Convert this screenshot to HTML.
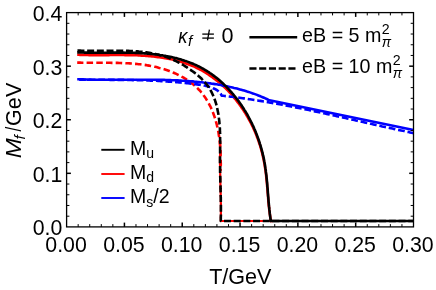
<!DOCTYPE html>
<html><head><meta charset="utf-8"><style>
html,body{margin:0;padding:0;background:#fff;}
svg{display:block;}
text{filter:grayscale(1);}
text{font-family:"Liberation Sans",sans-serif;fill:#000;}
</style></head><body>
<svg width="436" height="290" viewBox="0 0 436 290">
<rect width="436" height="290" fill="#fff"/>
<clipPath id="c"><rect x="66.6" y="12.6" width="346.9" height="214.3"/></clipPath>
<g clip-path="url(#c)">
<path d="M77.2 54.8L78.7 54.8L80.1 54.9L81.6 54.9L83.1 54.9L84.7 55.0L86.2 55.0L87.7 55.0L89.2 55.1L90.7 55.1L92.2 55.1L93.7 55.1L95.2 55.1L96.7 55.1L98.2 55.1L99.7 55.1L101.2 55.1L102.7 55.1L104.2 55.1L105.7 55.1L107.2 55.1L108.7 55.1L110.2 55.0L111.7 55.0L113.2 55.0L114.7 55.0L116.2 55.0L117.6 55.0L119.1 55.0L120.6 55.0L122.1 55.0L123.6 55.0L125.1 55.1L126.6 55.1L128.1 55.1L129.6 55.1L131.1 55.2L132.6 55.2L134.1 55.2L135.6 55.3L137.0 55.3L138.5 55.4L140.0 55.5L141.5 55.6L143.0 55.7L144.5 55.8L146.0 55.9L147.5 56.0L148.9 56.1L150.4 56.3L151.9 56.4L153.4 56.5L154.9 56.7L156.4 56.9L157.9 57.1L159.3 57.3L160.8 57.5L162.3 57.7L163.8 57.9L165.2 58.2L166.7 58.4L168.2 58.7L169.6 59.0L171.1 59.3L172.5 59.6L174.0 60.0L175.4 60.3L176.8 60.7L178.3 61.0L179.7 61.4L181.1 61.9L182.5 62.3L183.9 62.7L185.3 63.2L186.7 63.7L188.1 64.2L189.4 64.7L190.8 65.2L192.1 65.8L193.5 66.4L194.8 66.9L196.1 67.6L197.4 68.2L198.7 68.8L200.0 69.5L201.3 70.2L202.6 70.9L203.8 71.6L205.1 72.4L206.3 73.1L207.5 73.9L208.7 74.7L209.9 75.6L211.1 76.4L212.3 77.2L213.5 78.1L214.7 79.0L215.9 79.9L217.0 80.8L218.2 81.7L219.3 82.6L220.4 83.6L221.5 84.6L222.6 85.6L223.7 86.6L224.8 87.6L225.9 88.6L226.9 89.7L227.9 90.7L229.0 91.8L230.0 92.9L231.0 94.0L232.0 95.1L232.9 96.3L233.9 97.4L234.8 98.6L235.8 99.7L236.7 100.9L237.6 102.1L238.5 103.3L239.4 104.5L240.3 105.7L241.1 106.9L242.0 108.1L242.8 109.4L243.6 110.6L244.5 111.9L245.3 113.1L246.0 114.4L246.8 115.7L247.6 117.0L248.3 118.3L249.0 119.6L249.7 120.9L250.4 122.2L251.1 123.5L251.8 124.9L252.4 126.2L253.1 127.5L253.7 128.9L254.3 130.3L254.9 131.6L255.5 133.0L256.1 134.4L256.6 135.8L257.1 137.2L257.7 138.6L258.2 140.0L258.7 141.4L259.1 142.8L259.6 144.2L260.1 145.6L260.5 147.1L260.9 148.5L261.3 149.9L261.7 151.4L262.1 152.8L262.4 154.3L262.8 155.7L263.1 157.2L263.4 158.7L263.7 160.1L264.0 161.6L264.3 163.0L264.6 164.5L264.8 166.0L265.0 167.5L265.3 168.9L265.5 170.4L265.7 171.9L265.9 173.4L266.1 174.9L266.2 176.4L266.4 177.9L266.5 179.3L266.7 180.8L266.8 182.3L267.0 183.8L267.1 185.3L267.2 186.8L267.4 188.3L267.5 189.8L267.6 191.3L267.7 192.8L267.9 194.3L268.0 195.8L268.1 197.3L268.2 198.8L268.3 200.3L268.4 201.8L268.6 203.3L268.7 204.8L268.9 206.2L269.1 207.7L269.2 209.2L269.4 210.7L269.6 212.2L269.8 213.7L270.0 215.2L270.2 216.6L270.4 218.1L270.6 219.6L270.9 221.1L271.0 221.0L273.0 221.0" fill="none" stroke="#ff0000" stroke-width="2.60" stroke-linejoin="round"/>
<path d="M77.2 62.6L78.7 62.6L80.2 62.6L81.7 62.7L83.2 62.7L84.7 62.7L86.1 62.8L87.6 62.8L89.1 62.8L90.6 62.8L92.1 62.8L93.6 62.8L95.1 62.8L96.6 62.8L98.1 62.8L99.6 62.8L101.1 62.8L102.6 62.8L104.2 62.8L105.7 62.8L107.2 62.8L108.7 62.8L110.2 62.8L111.7 62.9L113.2 62.9L114.7 62.9L116.2 62.9L117.7 62.9L119.2 63.0L120.7 63.0L122.2 63.1L123.7 63.1L125.2 63.2L126.7 63.3L128.2 63.3L129.7 63.4L131.2 63.5L132.7 63.6L134.2 63.8L135.7 63.9L137.2 64.0L138.7 64.2L140.2 64.3L141.6 64.5L143.1 64.7L144.6 64.9L146.1 65.1L147.6 65.4L149.0 65.6L150.5 65.9L152.0 66.2L153.4 66.5L154.9 66.8L156.4 67.1L157.8 67.5L159.3 67.9L160.7 68.2L162.2 68.7L163.6 69.1L165.0 69.5L166.5 70.0L167.9 70.5L169.3 71.0L170.7 71.6L172.2 72.1L173.6 72.7L174.9 73.3L176.3 73.9L177.7 74.6L179.1 75.3L180.4 75.9L181.7 76.7L183.1 77.4L184.4 78.2L185.6 78.9L186.9 79.8L188.2 80.6L189.4 81.4L190.6 82.3L191.8 83.2L193.0 84.2L194.1 85.1L195.2 86.1L196.3 87.1L197.4 88.1L198.4 89.2L199.5 90.2L200.5 91.3L201.4 92.5L202.4 93.6L203.3 94.8L204.1 96.0L205.0 97.2L205.8 98.4L206.6 99.7L207.4 100.9L208.1 102.2L208.8 103.5L209.5 104.9L210.2 106.2L210.9 107.5L211.5 108.9L212.1 110.3L212.6 111.7L213.2 113.1L213.7 114.5L214.2 115.9L214.7 117.4L215.2 118.8L215.6 120.2L216.0 121.7L216.4 123.2L216.8 124.6L217.1 126.1L217.5 127.5L217.8 129.0L218.1 130.5L218.4 132.0L218.6 133.4L218.8 134.9L219.1 136.4L219.3 137.9L219.5 139.4L219.6 140.8L219.8 142.3L219.9 143.8L220.1 145.3L220.2 146.8L220.3 148.3L220.4 149.8L220.5 151.3L220.5 152.8L220.6 154.3L220.6 155.8L220.7 157.3L220.7 158.8L220.7 160.3L220.7 161.8L220.8 163.3L220.8 164.8L220.7 166.3L220.7 167.8L220.7 169.3L220.7 170.8" fill="none" stroke="#ff0000" stroke-width="2.60" stroke-linejoin="round" stroke-dasharray="6.50 3.20" stroke-dashoffset="0.30"/>
<path d="M220.2 140.7L220.2 142.2L220.2 143.7L220.1 145.2L220.1 146.7L220.1 148.2L220.1 149.7L220.1 151.2L220.1 152.7L220.1 154.2L220.0 155.7L220.0 157.2L220.0 158.7L220.0 160.2L220.0 161.7L220.0 163.2L220.0 164.7L220.1 166.2L220.1 167.7L220.1 169.2L220.1 170.7L220.1 172.2L220.2 173.7L220.2 175.2L220.2 176.7L220.3 178.2L220.3 179.7L220.3 181.2L220.4 182.7L220.4 184.2L220.5 185.7L220.5 187.2L220.5 188.7L220.6 190.2L220.6 191.7L220.7 193.2L220.7 194.7L220.7 196.2L220.8 197.7L220.8 199.2L220.8 200.7L220.8 202.2L220.9 203.7L220.9 205.2L220.9 206.7L220.9 208.2L220.9 209.7L220.9 211.2L220.9 212.7L220.9 214.2L220.9 215.7L220.8 217.2L220.8 218.7L220.8 220.2L220.8 221.0L273.0 221.0" fill="none" stroke="#ff0000" stroke-width="2.20" stroke-linejoin="round"/>
<path d="M77.2 79.3L78.7 79.3L80.2 79.3L81.7 79.4L83.2 79.4L84.7 79.5L86.2 79.5L87.6 79.6L89.1 79.6L90.6 79.6L92.1 79.7L93.6 79.7L95.1 79.7L96.6 79.7L98.1 79.7L99.6 79.7L101.1 79.8L102.6 79.8L104.1 79.8L105.6 79.8L107.1 79.8L108.6 79.8L110.1 79.8L111.6 79.8L113.1 79.8L114.6 79.8L116.1 79.8L117.6 79.8L119.1 79.8L120.6 79.8L122.1 79.7L123.6 79.7L125.1 79.7L126.6 79.7L128.1 79.7L129.6 79.7L131.1 79.7L132.6 79.7L134.1 79.7L135.6 79.7L137.1 79.7L138.6 79.7L140.1 79.7L141.6 79.7L143.2 79.7L144.7 79.7L146.2 79.7L147.7 79.7L149.2 79.7L150.7 79.7L152.2 79.7L153.7 79.8L155.2 79.8L156.7 79.8L158.2 79.8L159.7 79.8L161.2 79.9L162.7 79.9L164.2 79.9L165.7 80.0L167.2 80.0L168.7 80.1L170.3 80.1L171.8 80.2L173.3 80.2L174.8 80.3L176.3 80.4L177.8 80.4L179.3 80.5L180.8 80.6L182.3 80.7L183.8 80.8L185.3 80.9L186.7 81.0L188.2 81.1L189.7 81.2L191.2 81.3L192.7 81.4L194.2 81.6L195.7 81.7L197.2 81.9L198.7 82.0L200.2 82.2L201.7 82.3L203.2 82.5L204.6 82.7L206.1 82.9L207.6 83.0L209.1 83.2L210.6 83.4L212.0 83.7L213.5 83.9L215.0 84.1L216.5 84.3L218.0 84.6L219.4 84.8L220.9 85.1L222.4 85.4L223.8 85.7L225.3 85.9L226.8 86.2L228.2 86.6L229.7 86.9L231.2 87.2L232.6 87.5L234.1 87.9L235.5 88.2L237.0 88.6L238.4 89.0L239.9 89.4L241.3 89.8L242.8 90.2L244.2 90.6L245.6 91.0L247.1 91.5L248.5 91.9L249.9 92.4L251.3 92.9L252.8 93.4L254.2 93.9L255.6 94.4L257.0 94.9L258.4 95.5L259.8 96.0L261.2 96.6L262.6 97.2L264.0 97.8L265.4 98.4L266.7 99.0L268.1 99.7L268.3 100.1L295.0 105.5L413.5 130.0" fill="none" stroke="#0000ff" stroke-width="2.60" stroke-linejoin="round"/>
<path d="M77.2 79.8L78.7 79.8L80.2 79.8L81.7 79.8L83.2 79.8L84.7 79.8L86.2 79.8L87.7 79.8L89.2 79.8L90.7 79.8L92.2 79.8L93.8 79.8L95.3 79.8L96.8 79.8L98.3 79.8L99.8 79.8L101.3 79.8L102.8 79.8L104.3 79.8L105.8 79.8L107.3 79.8L108.8 79.8L110.3 79.9L111.8 79.9L113.3 79.9L114.8 79.9L116.3 79.9L117.8 79.9L119.3 79.9L120.7 79.9L122.2 79.9L123.7 79.9L125.2 80.0L126.7 80.0L128.2 80.0L129.7 80.0L131.2 80.0L132.7 80.1L134.2 80.1L135.7 80.1L137.2 80.2L138.7 80.2L140.2 80.2L141.7 80.3L143.2 80.3L144.7 80.4L146.2 80.4L147.7 80.5L149.2 80.5L150.7 80.6L152.2 80.6L153.7 80.7L155.2 80.8L156.6 80.8L158.1 80.9L159.6 81.0L161.1 81.1L162.6 81.2L164.1 81.3L165.6 81.4L167.1 81.5L168.6 81.6L170.1 81.7L171.6 81.8L173.1 81.9L174.6 82.0L176.1 82.1L177.6 82.3L179.1 82.4L180.6 82.5L182.1 82.7L183.6 82.8L185.1 83.0L186.6 83.1L188.1 83.3L189.6 83.5L191.1 83.7L192.6 83.8L194.1 84.0L195.6 84.2L197.1 84.4L198.6 84.6L200.1 84.8L201.6 85.1L203.0 85.3L204.5 85.6L206.0 85.9L207.4 86.3L208.9 86.7L210.3 87.1L211.7 87.6L213.0 88.2L214.4 88.8L215.7 89.4L216.9 90.2L218.1 91.0L219.3 92.0L220.3 93.1L221.1 94.4L221.7 95.8L223.2 95.8L224.7 96.0L226.2 96.1L227.7 96.3L229.2 96.5L230.7 96.7L232.2 96.8L233.6 97.0L235.1 97.2L236.6 97.4L238.1 97.6L239.6 97.8L241.1 98.0L242.6 98.2L244.0 98.4L245.5 98.6L247.0 98.8L248.5 99.1L250.0 99.3L251.5 99.5L252.9 99.7L254.4 100.0L255.9 100.2L257.4 100.4L258.9 100.7L260.3 100.9L261.8 101.1L263.3 101.4L264.8 101.6L266.3 101.9L267.7 102.1L269.2 102.4L270.7 102.7L272.2 102.9L273.6 103.2L275.1 103.5L276.6 103.7L278.1 104.0L279.5 104.3L281.0 104.5L282.5 104.8L284.0 105.1L285.4 105.4L286.9 105.7L288.4 105.9L289.9 106.2L291.3 106.5L292.8 106.8L294.3 107.1L295.7 107.4L297.2 107.7L298.7 108.0L300.1 108.3L301.6 108.6L303.1 108.9L304.6 109.2L306.0 109.5L307.5 109.8L309.0 110.1L310.4 110.4L311.9 110.7L313.4 111.0L314.8 111.4L316.3 111.7L317.8 112.0L319.2 112.3L320.7 112.6L322.2 112.9L323.6 113.3L325.1 113.6L326.6 113.9L328.0 114.2L329.5 114.5L331.0 114.9L332.4 115.2L333.9 115.5L335.4 115.8L336.8 116.2L338.3 116.5L339.7 116.8L341.2 117.2L342.7 117.5L344.1 117.8L345.6 118.1L347.1 118.5L348.5 118.8L350.0 119.1L351.5 119.5L352.9 119.8L354.4 120.1L355.9 120.5L357.3 120.8L358.8 121.1L360.2 121.4L361.7 121.8L363.2 122.1L364.6 122.4L366.1 122.8L367.6 123.1L369.0 123.4L370.5 123.8L372.0 124.1L373.4 124.4L374.9 124.7L376.3 125.1L377.8 125.4L379.3 125.7L380.7 126.0L382.2 126.4L383.7 126.7L385.1 127.0L386.6 127.3L388.1 127.7L389.5 128.0L391.0 128.3L392.5 128.6L393.9 128.9L395.4 129.3L396.9 129.6L398.3 129.9L399.8 130.2L401.2 130.5L402.7 130.8L404.2 131.1L405.6 131.5L407.1 131.8L408.6 132.1L410.0 132.4L411.5 132.7L413.0 133.0L413.5 133.2" fill="none" stroke="#0000ff" stroke-width="2.60" stroke-linejoin="round" stroke-dasharray="6.75 2.85" stroke-dashoffset="7.68"/>
<path d="M77.2 52.4L78.7 52.4L80.2 52.5L81.7 52.5L83.2 52.5L84.7 52.6L86.2 52.6L87.7 52.6L89.2 52.7L90.7 52.7L92.2 52.7L93.7 52.7L95.2 52.7L96.7 52.7L98.2 52.7L99.7 52.7L101.2 52.7L102.7 52.7L104.2 52.7L105.7 52.7L107.2 52.7L108.7 52.7L110.2 52.6L111.7 52.6L113.2 52.6L114.6 52.6L116.1 52.6L117.6 52.6L119.1 52.6L120.6 52.6L122.1 52.6L123.6 52.6L125.1 52.7L126.6 52.7L128.1 52.7L129.6 52.7L131.1 52.8L132.6 52.8L134.1 52.8L135.6 52.9L137.1 53.0L138.6 53.0L140.2 53.1L141.7 53.2L143.2 53.3L144.7 53.4L146.2 53.5L147.7 53.6L149.2 53.7L150.7 53.9L152.2 54.0L153.7 54.2L155.2 54.4L156.7 54.5L158.2 54.7L159.7 55.0L161.2 55.2L162.7 55.4L164.2 55.7L165.6 55.9L167.1 56.2L168.6 56.5L170.1 56.8L171.6 57.1L173.0 57.4L174.5 57.8L176.0 58.1L177.4 58.5L178.9 58.9L180.3 59.3L181.7 59.8L183.2 60.2L184.6 60.7L186.0 61.1L187.4 61.6L188.8 62.1L190.2 62.7L191.6 63.2L193.0 63.8L194.3 64.4L195.7 65.0L197.1 65.6L198.4 66.3L199.7 66.9L201.0 67.6L202.3 68.3L203.6 69.0L204.9 69.8L206.2 70.6L207.4 71.4L208.7 72.2L209.9 73.0L211.2 73.8L212.4 74.7L213.6 75.6L214.8 76.5L215.9 77.4L217.1 78.3L218.3 79.3L219.4 80.3L220.5 81.3L221.6 82.3L222.7 83.3L223.8 84.3L224.9 85.4L226.0 86.4L227.0 87.5L228.1 88.6L229.1 89.7L230.1 90.8L231.1 91.9L232.1 93.1L233.1 94.2L234.0 95.4L235.0 96.5L235.9 97.7L236.8 98.9L237.8 100.1L238.7 101.3L239.5 102.6L240.4 103.8L241.3 105.0L242.1 106.3L242.9 107.5L243.7 108.8L244.5 110.1L245.3 111.3L246.1 112.6L246.9 113.9L247.6 115.2L248.3 116.5L249.0 117.9L249.7 119.2L250.4 120.5L251.1 121.9L251.8 123.2L252.4 124.6L253.1 125.9L253.7 127.3L254.3 128.7L254.9 130.0L255.5 131.4L256.0 132.8L256.6 134.2L257.1 135.6L257.6 137.0L258.1 138.4L258.6 139.8L259.1 141.2L259.6 142.7L260.0 144.1L260.5 145.5L260.9 147.0L261.3 148.4L261.7 149.8L262.1 151.3L262.4 152.7L262.8 154.2L263.1 155.7L263.5 157.1L263.8 158.6L264.1 160.1L264.3 161.5L264.6 163.0L264.9 164.5L265.1 165.9L265.3 167.4L265.5 168.9L265.8 170.4L265.9 171.9L266.1 173.4L266.3 174.9L266.5 176.3L266.6 177.8L266.8 179.3L266.9 180.8L267.1 182.3L267.2 183.8L267.3 185.3L267.4 186.8L267.6 188.3L267.7 189.8L267.8 191.3L267.9 192.8L268.0 194.3L268.1 195.8L268.3 197.3L268.4 198.8L268.5 200.3L268.6 201.8L268.8 203.3L268.9 204.7L269.0 206.2L269.2 207.7L269.3 209.2L269.5 210.7L269.7 212.2L269.8 213.7L270.0 215.1L270.2 216.6L270.4 218.1L270.6 219.6L270.9 221.1L271.3 221.0L415.5 221.0" fill="none" stroke="#000" stroke-width="2.60" stroke-linejoin="round"/>
<path d="M77.2 50.5L78.7 50.5L80.2 50.6L81.6 50.7L83.1 50.7L84.6 50.7L86.1 50.8L87.6 50.8L89.0 50.8L90.5 50.8L92.0 50.8L93.5 50.8L95.0 50.8L96.5 50.8L98.0 50.8L99.6 50.8L101.1 50.8L102.6 50.8L104.1 50.8L105.6 50.8L107.1 50.7L108.6 50.7L110.2 50.7L111.7 50.7L113.2 50.7L114.7 50.7L116.2 50.7L117.7 50.7L119.3 50.7L120.8 50.7L122.3 50.7L123.8 50.8L125.3 50.8L126.8 50.9L128.3 50.9L129.9 51.0L131.4 51.0L132.9 51.1L134.4 51.2L135.9 51.3L137.4 51.4L138.9 51.6L140.4 51.7L141.8 51.8L143.3 52.0L144.8 52.2L146.3 52.4L147.8 52.6L149.2 52.8L150.7 53.1L152.1 53.4L153.6 53.6L155.1 53.9L156.5 54.3L157.9 54.6L159.4 55.0L160.8 55.4L162.2 55.8L163.6 56.2L165.0 56.6L166.4 57.1L167.8 57.6L169.2 58.1L170.6 58.7L172.0 59.3L173.3 59.9L174.7 60.5L176.0 61.1L177.4 61.8L178.7 62.5L180.1 63.2L181.4 64.0L182.7 64.7L184.0 65.5L185.3 66.3L186.6 67.1L187.8 68.0L189.1 68.8L190.4 69.7L191.6 70.6L192.9 71.5L194.1 72.4L195.3 73.3L196.5 74.2L197.7 75.2L198.8 76.2L200.0 77.2L201.1 78.2L202.1 79.3L203.2 80.4L204.2 81.4L205.2 82.6L206.1 83.7L207.0 84.9L207.9 86.1L208.7 87.3L209.5 88.5L210.3 89.8L211.0 91.1L211.7 92.4L212.3 93.7L212.9 95.0L213.5 96.4L214.0 97.8L214.6 99.2L215.1 100.6L215.5 102.0L216.0 103.4L216.4 104.9L216.7 106.3L217.1 107.8L217.4 109.2L217.7 110.7L218.0 112.2L218.3 113.7L218.5 115.2L218.7 116.7L218.9 118.2L219.1 119.7L219.3 121.2L219.4 122.7L219.5 124.2L219.7 125.7L219.8 127.2L219.9 128.7L219.9 130.2L220.0 131.7L220.0 133.2L220.1 134.7L220.1 136.2L220.1 137.7L220.1 139.2L220.2 140.7L220.2 142.2L220.2 143.7L220.1 145.2L220.1 146.7L220.1 148.2L220.1 149.7L220.1 151.2L220.1 152.7L220.1 154.2L220.0 155.7L220.0 157.2L220.0 158.7L220.0 160.2L220.0 161.7L220.0 163.2L220.0 164.7L220.1 166.2L220.1 167.7L220.1 169.2L220.1 170.7L220.1 172.2L220.2 173.7L220.2 175.2L220.2 176.7L220.3 178.2L220.3 179.7L220.3 181.2L220.4 182.7L220.4 184.2L220.5 185.7L220.5 187.2L220.5 188.7L220.6 190.2L220.6 191.7L220.7 193.2L220.7 194.7L220.7 196.2L220.8 197.7L220.8 199.2L220.8 200.7L220.8 202.2L220.9 203.7L220.9 205.2L220.9 206.7L220.9 208.2L220.9 209.7L220.9 211.2L220.9 212.7L220.9 214.2L220.9 215.7L220.8 217.2L220.8 218.7L220.8 220.2L220.8 221.0L415.5 221.0" fill="none" stroke="#000" stroke-width="2.60" stroke-linejoin="round" stroke-dasharray="7.00 2.70" stroke-dashoffset="9.45"/>
</g>
<g stroke="#000">
<line x1="78.16" y1="226.90" x2="78.16" y2="224.10" stroke-width="1.0"/>
<line x1="78.16" y1="12.60" x2="78.16" y2="15.40" stroke-width="1.0"/>
<line x1="89.73" y1="226.90" x2="89.73" y2="224.10" stroke-width="1.0"/>
<line x1="89.73" y1="12.60" x2="89.73" y2="15.40" stroke-width="1.0"/>
<line x1="101.29" y1="226.90" x2="101.29" y2="224.10" stroke-width="1.0"/>
<line x1="101.29" y1="12.60" x2="101.29" y2="15.40" stroke-width="1.0"/>
<line x1="112.85" y1="226.90" x2="112.85" y2="224.10" stroke-width="1.0"/>
<line x1="112.85" y1="12.60" x2="112.85" y2="15.40" stroke-width="1.0"/>
<line x1="124.42" y1="226.90" x2="124.42" y2="222.60" stroke-width="1.5"/>
<line x1="124.42" y1="12.60" x2="124.42" y2="16.90" stroke-width="1.5"/>
<line x1="135.98" y1="226.90" x2="135.98" y2="224.10" stroke-width="1.0"/>
<line x1="135.98" y1="12.60" x2="135.98" y2="15.40" stroke-width="1.0"/>
<line x1="147.54" y1="226.90" x2="147.54" y2="224.10" stroke-width="1.0"/>
<line x1="147.54" y1="12.60" x2="147.54" y2="15.40" stroke-width="1.0"/>
<line x1="159.11" y1="226.90" x2="159.11" y2="224.10" stroke-width="1.0"/>
<line x1="159.11" y1="12.60" x2="159.11" y2="15.40" stroke-width="1.0"/>
<line x1="170.67" y1="226.90" x2="170.67" y2="224.10" stroke-width="1.0"/>
<line x1="170.67" y1="12.60" x2="170.67" y2="15.40" stroke-width="1.0"/>
<line x1="182.23" y1="226.90" x2="182.23" y2="222.60" stroke-width="1.5"/>
<line x1="182.23" y1="12.60" x2="182.23" y2="16.90" stroke-width="1.5"/>
<line x1="193.80" y1="226.90" x2="193.80" y2="224.10" stroke-width="1.0"/>
<line x1="193.80" y1="12.60" x2="193.80" y2="15.40" stroke-width="1.0"/>
<line x1="205.36" y1="226.90" x2="205.36" y2="224.10" stroke-width="1.0"/>
<line x1="205.36" y1="12.60" x2="205.36" y2="15.40" stroke-width="1.0"/>
<line x1="216.92" y1="226.90" x2="216.92" y2="224.10" stroke-width="1.0"/>
<line x1="216.92" y1="12.60" x2="216.92" y2="15.40" stroke-width="1.0"/>
<line x1="228.49" y1="226.90" x2="228.49" y2="224.10" stroke-width="1.0"/>
<line x1="228.49" y1="12.60" x2="228.49" y2="15.40" stroke-width="1.0"/>
<line x1="240.05" y1="226.90" x2="240.05" y2="222.60" stroke-width="1.5"/>
<line x1="240.05" y1="12.60" x2="240.05" y2="16.90" stroke-width="1.5"/>
<line x1="251.61" y1="226.90" x2="251.61" y2="224.10" stroke-width="1.0"/>
<line x1="251.61" y1="12.60" x2="251.61" y2="15.40" stroke-width="1.0"/>
<line x1="263.18" y1="226.90" x2="263.18" y2="224.10" stroke-width="1.0"/>
<line x1="263.18" y1="12.60" x2="263.18" y2="15.40" stroke-width="1.0"/>
<line x1="274.74" y1="226.90" x2="274.74" y2="224.10" stroke-width="1.0"/>
<line x1="274.74" y1="12.60" x2="274.74" y2="15.40" stroke-width="1.0"/>
<line x1="286.30" y1="226.90" x2="286.30" y2="224.10" stroke-width="1.0"/>
<line x1="286.30" y1="12.60" x2="286.30" y2="15.40" stroke-width="1.0"/>
<line x1="297.87" y1="226.90" x2="297.87" y2="222.60" stroke-width="1.5"/>
<line x1="297.87" y1="12.60" x2="297.87" y2="16.90" stroke-width="1.5"/>
<line x1="309.43" y1="226.90" x2="309.43" y2="224.10" stroke-width="1.0"/>
<line x1="309.43" y1="12.60" x2="309.43" y2="15.40" stroke-width="1.0"/>
<line x1="320.99" y1="226.90" x2="320.99" y2="224.10" stroke-width="1.0"/>
<line x1="320.99" y1="12.60" x2="320.99" y2="15.40" stroke-width="1.0"/>
<line x1="332.56" y1="226.90" x2="332.56" y2="224.10" stroke-width="1.0"/>
<line x1="332.56" y1="12.60" x2="332.56" y2="15.40" stroke-width="1.0"/>
<line x1="344.12" y1="226.90" x2="344.12" y2="224.10" stroke-width="1.0"/>
<line x1="344.12" y1="12.60" x2="344.12" y2="15.40" stroke-width="1.0"/>
<line x1="355.68" y1="226.90" x2="355.68" y2="222.60" stroke-width="1.5"/>
<line x1="355.68" y1="12.60" x2="355.68" y2="16.90" stroke-width="1.5"/>
<line x1="367.25" y1="226.90" x2="367.25" y2="224.10" stroke-width="1.0"/>
<line x1="367.25" y1="12.60" x2="367.25" y2="15.40" stroke-width="1.0"/>
<line x1="378.81" y1="226.90" x2="378.81" y2="224.10" stroke-width="1.0"/>
<line x1="378.81" y1="12.60" x2="378.81" y2="15.40" stroke-width="1.0"/>
<line x1="390.37" y1="226.90" x2="390.37" y2="224.10" stroke-width="1.0"/>
<line x1="390.37" y1="12.60" x2="390.37" y2="15.40" stroke-width="1.0"/>
<line x1="401.94" y1="226.90" x2="401.94" y2="224.10" stroke-width="1.0"/>
<line x1="401.94" y1="12.60" x2="401.94" y2="15.40" stroke-width="1.0"/>
<line x1="66.60" y1="216.19" x2="69.40" y2="216.19" stroke-width="1.0"/>
<line x1="413.50" y1="216.19" x2="410.70" y2="216.19" stroke-width="1.0"/>
<line x1="66.60" y1="205.47" x2="69.40" y2="205.47" stroke-width="1.0"/>
<line x1="413.50" y1="205.47" x2="410.70" y2="205.47" stroke-width="1.0"/>
<line x1="66.60" y1="194.75" x2="69.40" y2="194.75" stroke-width="1.0"/>
<line x1="413.50" y1="194.75" x2="410.70" y2="194.75" stroke-width="1.0"/>
<line x1="66.60" y1="184.04" x2="69.40" y2="184.04" stroke-width="1.0"/>
<line x1="413.50" y1="184.04" x2="410.70" y2="184.04" stroke-width="1.0"/>
<line x1="66.60" y1="173.32" x2="70.90" y2="173.32" stroke-width="1.5"/>
<line x1="413.50" y1="173.32" x2="409.20" y2="173.32" stroke-width="1.5"/>
<line x1="66.60" y1="162.61" x2="69.40" y2="162.61" stroke-width="1.0"/>
<line x1="413.50" y1="162.61" x2="410.70" y2="162.61" stroke-width="1.0"/>
<line x1="66.60" y1="151.89" x2="69.40" y2="151.89" stroke-width="1.0"/>
<line x1="413.50" y1="151.89" x2="410.70" y2="151.89" stroke-width="1.0"/>
<line x1="66.60" y1="141.18" x2="69.40" y2="141.18" stroke-width="1.0"/>
<line x1="413.50" y1="141.18" x2="410.70" y2="141.18" stroke-width="1.0"/>
<line x1="66.60" y1="130.47" x2="69.40" y2="130.47" stroke-width="1.0"/>
<line x1="413.50" y1="130.47" x2="410.70" y2="130.47" stroke-width="1.0"/>
<line x1="66.60" y1="119.75" x2="70.90" y2="119.75" stroke-width="1.5"/>
<line x1="413.50" y1="119.75" x2="409.20" y2="119.75" stroke-width="1.5"/>
<line x1="66.60" y1="109.04" x2="69.40" y2="109.04" stroke-width="1.0"/>
<line x1="413.50" y1="109.04" x2="410.70" y2="109.04" stroke-width="1.0"/>
<line x1="66.60" y1="98.32" x2="69.40" y2="98.32" stroke-width="1.0"/>
<line x1="413.50" y1="98.32" x2="410.70" y2="98.32" stroke-width="1.0"/>
<line x1="66.60" y1="87.61" x2="69.40" y2="87.61" stroke-width="1.0"/>
<line x1="413.50" y1="87.61" x2="410.70" y2="87.61" stroke-width="1.0"/>
<line x1="66.60" y1="76.89" x2="69.40" y2="76.89" stroke-width="1.0"/>
<line x1="413.50" y1="76.89" x2="410.70" y2="76.89" stroke-width="1.0"/>
<line x1="66.60" y1="66.18" x2="70.90" y2="66.18" stroke-width="1.5"/>
<line x1="413.50" y1="66.18" x2="409.20" y2="66.18" stroke-width="1.5"/>
<line x1="66.60" y1="55.46" x2="69.40" y2="55.46" stroke-width="1.0"/>
<line x1="413.50" y1="55.46" x2="410.70" y2="55.46" stroke-width="1.0"/>
<line x1="66.60" y1="44.75" x2="69.40" y2="44.75" stroke-width="1.0"/>
<line x1="413.50" y1="44.75" x2="410.70" y2="44.75" stroke-width="1.0"/>
<line x1="66.60" y1="34.03" x2="69.40" y2="34.03" stroke-width="1.0"/>
<line x1="413.50" y1="34.03" x2="410.70" y2="34.03" stroke-width="1.0"/>
<line x1="66.60" y1="23.31" x2="69.40" y2="23.31" stroke-width="1.0"/>
<line x1="413.50" y1="23.31" x2="410.70" y2="23.31" stroke-width="1.0"/>
</g>
<rect x="66.6" y="12.6" width="346.9" height="214.3" fill="none" stroke="#000" stroke-width="1.3"/>
<text x="66.10" y="252.3" text-anchor="middle" font-size="21.3">0.00</text>
<text x="123.92" y="252.3" text-anchor="middle" font-size="21.3">0.05</text>
<text x="181.73" y="252.3" text-anchor="middle" font-size="21.3">0.10</text>
<text x="239.55" y="252.3" text-anchor="middle" font-size="21.3">0.15</text>
<text x="297.37" y="252.3" text-anchor="middle" font-size="21.3">0.20</text>
<text x="355.18" y="252.3" text-anchor="middle" font-size="21.3">0.25</text>
<text x="413.00" y="252.3" text-anchor="middle" font-size="21.3">0.30</text>
<text x="62.3" y="235.30" text-anchor="end" font-size="21.3">0.0</text>
<text x="62.3" y="181.72" text-anchor="end" font-size="21.3">0.1</text>
<text x="62.3" y="128.15" text-anchor="end" font-size="21.3">0.2</text>
<text x="62.3" y="74.58" text-anchor="end" font-size="21.3">0.3</text>
<text x="62.3" y="21.00" text-anchor="end" font-size="21.3">0.4</text>
<text x="240.3" y="283.9" text-anchor="middle" font-size="21.55">T/GeV</text>
<g transform="translate(20.7,158.6) rotate(-90)">
<text transform="translate(0.3,0) scale(1.07,1)" font-size="22.5" font-style="italic">M</text>
<text x="19.1" y="4.1" font-size="15.2" font-style="italic">f</text>
<text transform="translate(27.2,0) scale(0.8,1)" font-size="21.5">/</text>
<text x="32.5" y="0" font-size="21.5" letter-spacing="0.25">GeV</text>
</g>
<!-- kappa legend -->
<text transform="translate(178.2,42.6) scale(0.9,1)" font-size="20.4" font-style="italic">&#954;</text>
<text x="188.0" y="46.1" font-size="15.2" font-style="italic">f</text>
<g stroke="#000" stroke-width="1.3" fill="none">
<line x1="202.3" y1="34.1" x2="213.9" y2="34.1"/>
<line x1="202.3" y1="38.1" x2="213.9" y2="38.1"/>
<line x1="207.5" y1="40.3" x2="209.4" y2="29.6"/>
</g>
<text x="221.6" y="42.6" font-size="21.6">0</text>
<!-- line style legend -->
<line x1="249.4" y1="37.3" x2="297.2" y2="37.3" stroke="#000" stroke-width="2.6"/>
<line x1="249.4" y1="68.5" x2="297.2" y2="68.5" stroke="#000" stroke-width="2.6" stroke-dasharray="7.1 2.65"/>
<text transform="translate(302.1,41.8) scale(0.965,1)" font-size="20.4">eB = 5 m<tspan font-size="14.7" dy="-7.4" dx="0.5">2</tspan><tspan font-size="14.5" font-style="italic" dx="-8.3" dy="13">&#960;</tspan></text>
<text transform="translate(302.1,72.6) scale(0.965,1)" font-size="20.4">eB = 10 m<tspan font-size="14.7" dy="-7.4" dx="0.5">2</tspan><tspan font-size="14.5" font-style="italic" dx="-8.3" dy="13">&#960;</tspan></text>
<!-- color legend -->
<line x1="101.3" y1="149.8" x2="124.6" y2="149.8" stroke="#000" stroke-width="1.9"/>
<line x1="101.3" y1="174.0" x2="124.6" y2="174.0" stroke="#ff0000" stroke-width="1.9"/>
<line x1="101.3" y1="198.0" x2="124.6" y2="198.0" stroke="#0000ff" stroke-width="1.9"/>
<text x="130" y="154.6" font-size="19.5">M<tspan font-size="14" dy="3.4">u</tspan></text>
<text x="130" y="178.9" font-size="19.5">M<tspan font-size="14" dy="3.4">d</tspan></text>
<text x="130" y="203.2" font-size="19.5">M<tspan font-size="14" dy="3.4">s</tspan><tspan dy="-3.4">/2</tspan></text>
</svg>
</body></html>
